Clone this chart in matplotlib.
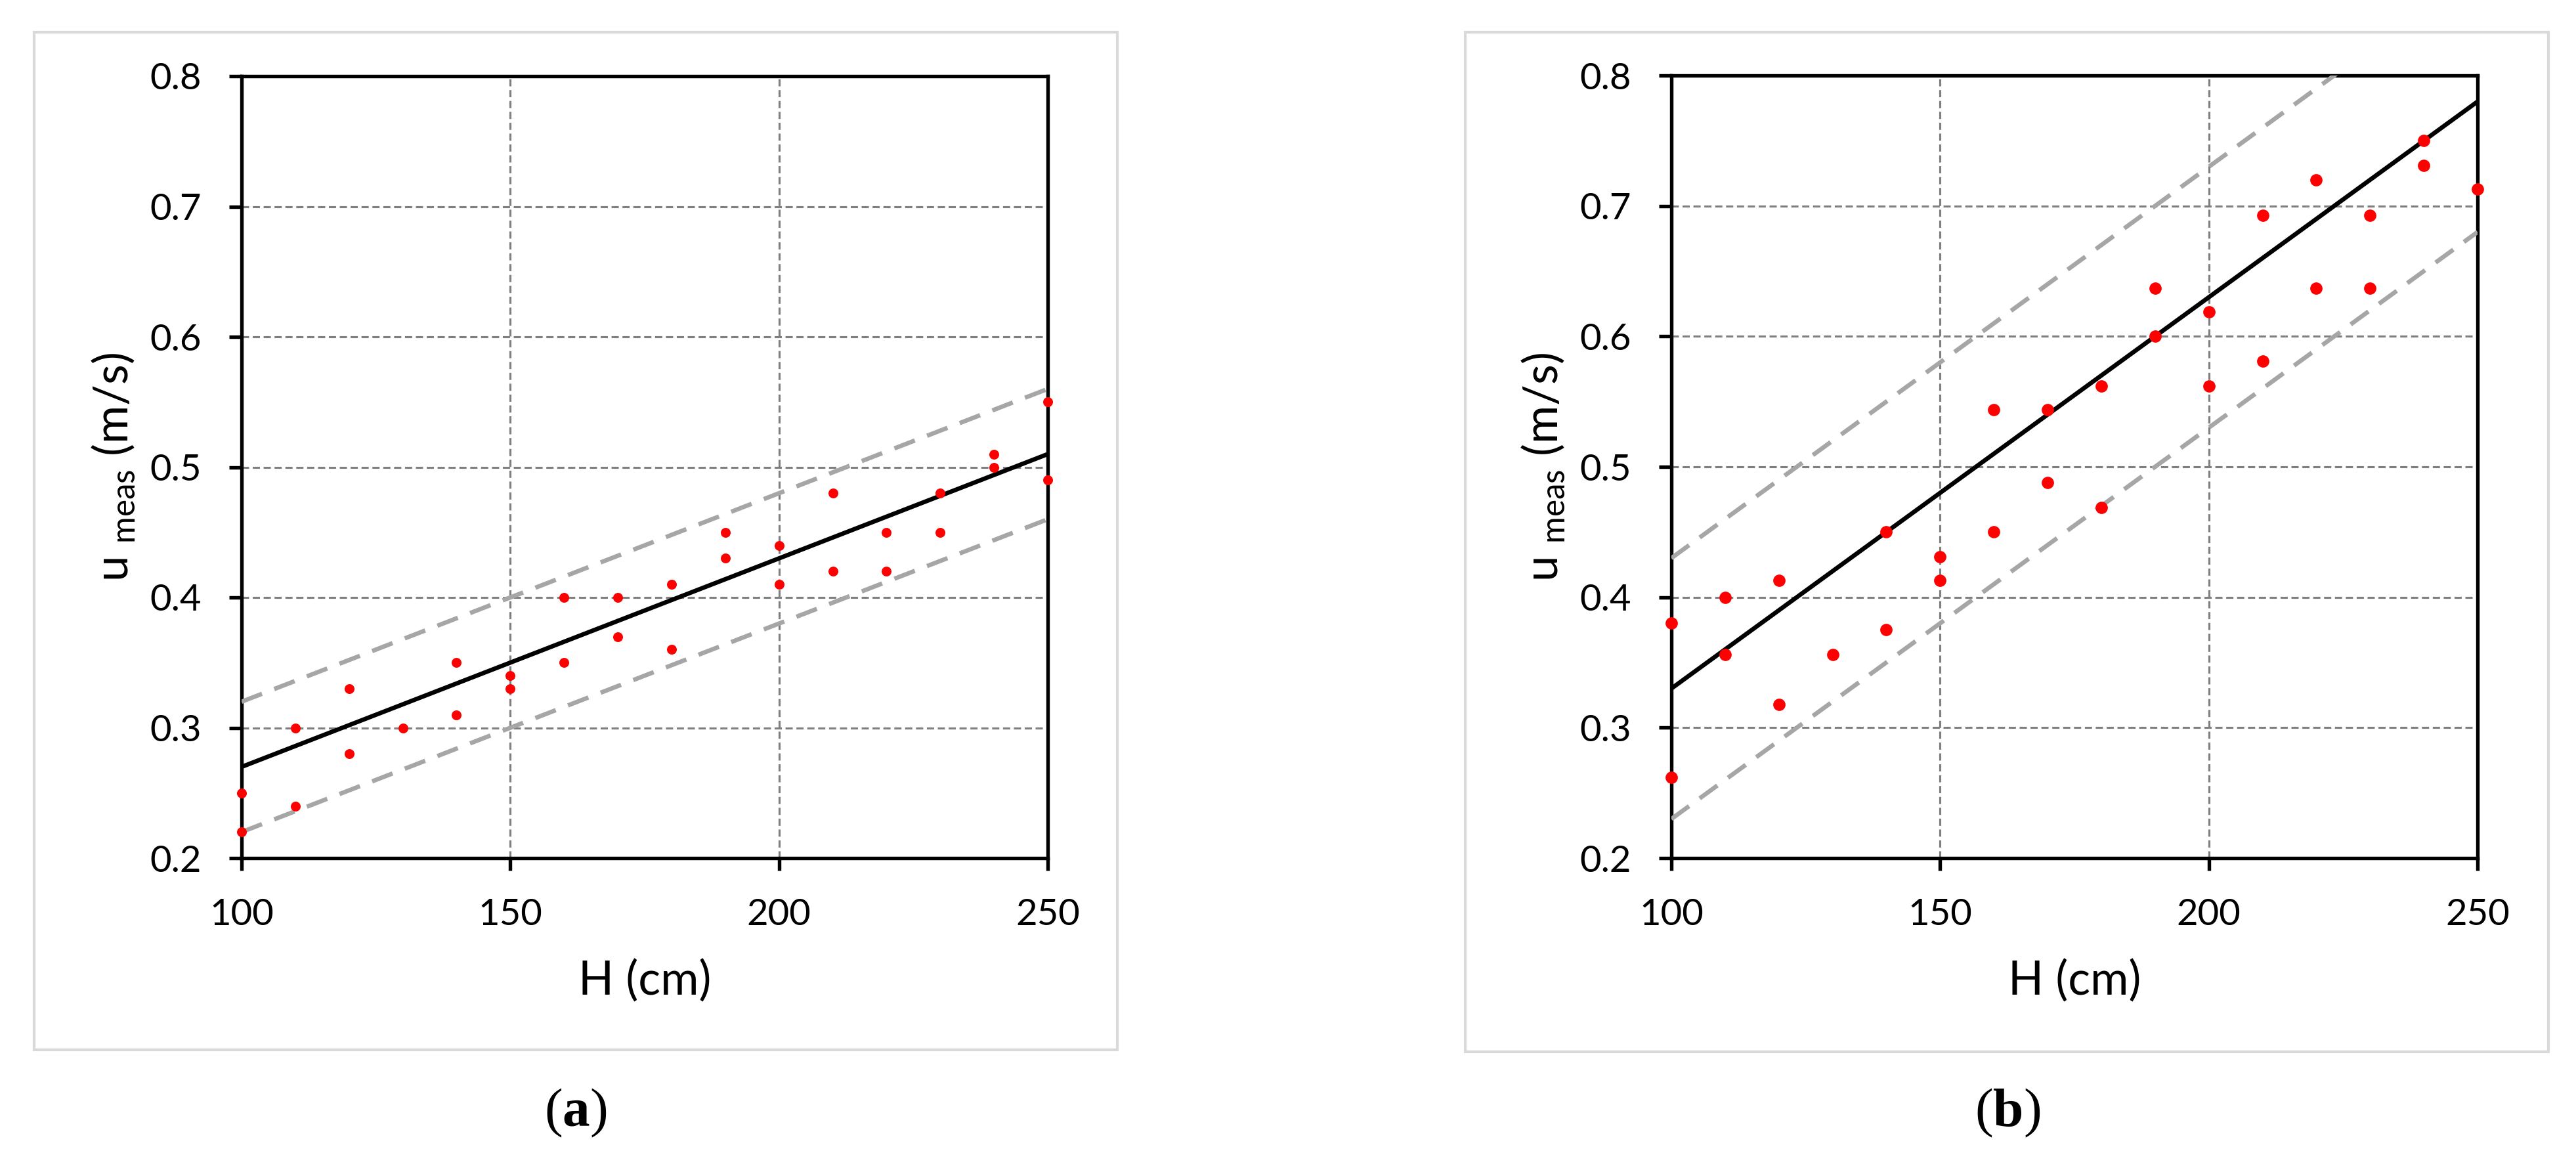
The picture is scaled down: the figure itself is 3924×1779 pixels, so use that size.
import matplotlib
matplotlib.use("Agg")
import matplotlib.pyplot as plt
from matplotlib.patches import Rectangle

plt.rcParams['font.family'] = ['Lato', 'DejaVu Sans']
plt.rcParams['mathtext.fontset'] = 'custom'
plt.rcParams['mathtext.bf'] = 'Liberation Serif:bold'
plt.rcParams['mathtext.rm'] = 'Liberation Serif'

# ---- data (a) ----
H_a = [100, 100, 110, 110, 120, 120, 130, 140, 140, 150, 150, 160, 160, 170, 170,
       180, 180, 190, 190, 200, 200, 210, 210, 220, 220, 230, 230, 240, 240, 250, 250]
u_a = [0.25, 0.22, 0.30, 0.24, 0.33, 0.28, 0.30, 0.35, 0.31, 0.34, 0.33, 0.40, 0.35, 0.40, 0.37,
       0.41, 0.36, 0.45, 0.43, 0.44, 0.41, 0.48, 0.42, 0.45, 0.42, 0.48, 0.45, 0.51, 0.50, 0.55, 0.49]
line_H = [100, 250]
fit_a = [0.27, 0.51]
upper_a = [0.32, 0.56]
lower_a = [0.22, 0.46]

# ---- data (b) ----
H_b = [100, 100, 110, 110, 120, 120, 130, 140, 140, 150, 150, 160, 160, 170, 170,
       180, 180, 190, 190, 200, 200, 210, 210, 220, 220, 230, 230, 240, 240, 250]
u_b = [0.380, 0.262, 0.400, 0.356, 0.413, 0.318, 0.356, 0.450, 0.375, 0.431, 0.413, 0.544, 0.450,
       0.544, 0.488, 0.562, 0.469, 0.637, 0.600, 0.619, 0.562, 0.693, 0.581, 0.720, 0.637,
       0.693, 0.637, 0.750, 0.731, 0.713]
fit_b = [0.33, 0.78]
upper_b = [0.43, 0.88]
lower_b = [0.23, 0.68]

x_ticks = [100, 150, 200, 250]
y_ticks = [0.2, 0.3, 0.4, 0.5, 0.6, 0.7, 0.8]
x_label = "H (cm)"
y_label = r"u $_{\mathregular{meas}}$ (m/s)"
panel_labels = ["a", "b"]

W, Hpx = 3924, 1779
dpi = 300
fig = plt.figure(figsize=(W / dpi, Hpx / dpi), dpi=dpi)

def fx(px):
    return px / W

def fy(py):
    return 1 - py / Hpx

panels = [
    dict(box=(52, 49, 1702, 1599), ax=(368, 116, 1596, 1307),
         H=H_a, u=u_a, fit=fit_a, up=upper_a, lo=lower_a, ms=3.6, lab=panel_labels[0], labx=877),
    dict(box=(2232, 49, 3882, 1602), ax=(2546, 115, 3774, 1307),
         H=H_b, u=u_b, fit=fit_b, up=upper_b, lo=lower_b, ms=4.5, lab=panel_labels[1], labx=3058),
]

for p in panels:
    bx0, by0, bx1, by1 = p['box']
    fig.patches.append(Rectangle((fx(bx0), fy(by1)), fx(bx1 - bx0), (by1 - by0) / Hpx,
                                 transform=fig.transFigure, fill=False,
                                 edgecolor='#d9d9d9', linewidth=1.0, zorder=0))
    ax0, ay0, ax1, ay1 = p['ax']
    ax = fig.add_axes([fx(ax0), fy(ay1), fx(ax1 - ax0), (ay1 - ay0) / Hpx])
    ax.set_xlim(100, 250)
    ax.set_ylim(0.2, 0.8)
    ax.set_xticks(x_ticks)
    ax.set_xticklabels([str(v) for v in x_ticks])
    ax.set_yticks(y_ticks)
    ax.set_yticklabels([f"{v:.1f}" for v in y_ticks])
    ax.grid(True, color='#7f7f7f', linewidth=0.75, linestyle=(0, (3.5, 1.8)))
    ax.set_axisbelow(True)
    for s in ax.spines.values():
        s.set_linewidth(1.3)
        s.set_color('black')
    ax.tick_params(direction='out', length=4.6, width=1.3, pad=10, labelsize=13.5,
                   colors='black', top=False, right=False)
    ax.plot(line_H, p['up'], color='#a6a6a6', linewidth=1.6, linestyle=(0, (5, 3)), zorder=3)
    ax.plot(line_H, p['lo'], color='#a6a6a6', linewidth=1.6, linestyle=(0, (5, 3)), zorder=3)
    ax.plot(line_H, p['fit'], color='black', linewidth=1.6, zorder=4)
    ax.plot(p['H'], p['u'], linestyle='none', marker='o', markersize=p['ms'],
            markerfacecolor='#ff0000', markeredgecolor='#ff0000', markeredgewidth=0,
            zorder=5, clip_on=False)
    ax.text(0.5, -0.157, x_label, transform=ax.transAxes, ha='center', va='center', fontsize=17)
    ax.text(-0.159, 0.5, y_label, transform=ax.transAxes, ha='center', va='center',
            rotation=90, fontsize=17)
    fig.text(fx(p['labx']), fy(1695), r"($\mathbf{" + p['lab'] + r"}$)", ha='center', va='center',
             fontsize=20, family='Liberation Serif')

fig.savefig("out.png", dpi=dpi, facecolor='white')
